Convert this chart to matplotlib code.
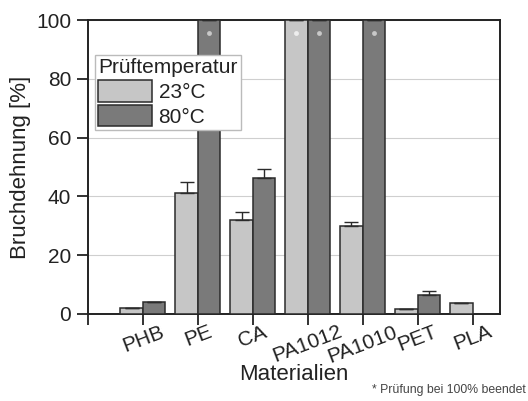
import numpy as np
import matplotlib
matplotlib.use('Agg')
import matplotlib.pyplot as plt

plt.rcParams['font.family'] = ['Liberation Sans', 'DejaVu Sans']

# data
materials = ['PHB', 'PE', 'CA', 'PA1012', 'PA1010', 'PET', 'PLA']
temps = ['23°C', '80°C']
elong_23 = [1.9, 41.0, 32.0, 100.0, 29.9, 1.7, 3.8]
elong_80 = [4.0, 100.0, 46.2, 100.0, 100.0, 6.5, 0.0]
err_23 = [0.0, 4.0, 2.6, 0.0, 1.4, 0.0, 0.0]
err_80 = [0.0, 0.0, 3.1, 0.0, 0.0, 1.2, 0.0]
# tests stopped at 100 % (marked with a dot)
stopped_23 = [False, False, False, True, False, False, False]
stopped_80 = [False, True, False, True, True, False, False]

light = '#c6c6c6'
dark = '#7a7a7a'
edge = '#2b2b2b'
txt = '#222222'
width = 0.41

fig = plt.figure(figsize=(5.28, 4.01), dpi=100)
ax = fig.add_axes([0.1667, 0.217, 0.7803, 0.733])

x = np.arange(1, len(materials) + 1)
x23 = x - width / 2
x80 = x + width / 2

ekw = dict(ecolor=edge, elinewidth=1.0, capsize=5, capthick=1.0)
ax.bar(x23, elong_23, width, color=light, edgecolor=edge, linewidth=1.1,
       label=temps[0], zorder=3,
       yerr=[np.zeros(len(err_23)), err_23], error_kw=ekw)
ax.bar(x80, elong_80, width, color=dark, edgecolor=edge, linewidth=1.1,
       label=temps[1], zorder=3,
       yerr=[np.zeros(len(err_80)), err_80], error_kw=ekw)

# markers for tests stopped at 100 %
s23 = np.array(stopped_23)
s80 = np.array(stopped_80)
ax.plot(x23[s23], np.full(s23.sum(), 95.5), 'o', ms=3.5, color='#eeeeee',
        mec='none', zorder=4)
ax.plot(x80[s80], np.full(s80.sum(), 95.5), 'o', ms=3.5, color='#c8c8c8',
        mec='none', zorder=4)

ax.set_xlim(0, 7.5)
ax.set_ylim(0, 100)
ax.set_yticks([0, 20, 40, 60, 80, 100])
ax.set_xticks(np.arange(0, len(materials) + 1))
ax.set_xticklabels([''] + materials, rotation=21, ha='center')
ax.tick_params(axis='both', direction='out', length=8, width=1.3,
               colors=txt)
ax.tick_params(axis='y', labelsize=15, pad=4)
ax.tick_params(axis='x', labelsize=15, pad=-2)
ax.yaxis.grid(True, color='#cfcfcf', linewidth=0.8, zorder=0)
ax.set_axisbelow(True)
for s in ax.spines.values():
    s.set_linewidth(1.4)
    s.set_color(txt)

ax.set_ylabel('Bruchdehnung [%]', fontsize=16, color=txt, va='center')
ax.yaxis.set_label_coords(-0.165, 0.5)
ax.set_xlabel('Materialien', fontsize=16, color=txt, va='center')
ax.xaxis.set_label_coords(0.5, -0.207)

leg = ax.legend(title='Prüftemperatur', loc='upper left',
                bbox_to_anchor=(0.017, 0.881), borderaxespad=0,
                fontsize=15, title_fontsize=15, frameon=True, fancybox=False,
                handlelength=2.6, handleheight=1.2, handletextpad=0.3,
                labelspacing=0.15, borderpad=0.15)
leg._legend_box.align = 'left'
leg.get_frame().set_edgecolor('#bbbbbb')
leg.get_frame().set_linewidth(1.0)
leg.get_frame().set_alpha(1)
for t in leg.get_texts():
    t.set_color(txt)
leg.get_title().set_color(txt)

fig.text(0.996, 0.027, '* Prüfung bei 100% beendet', ha='right', va='center',
         fontsize=8.8, color='#444444')

fig.savefig('out.png', dpi=100)
